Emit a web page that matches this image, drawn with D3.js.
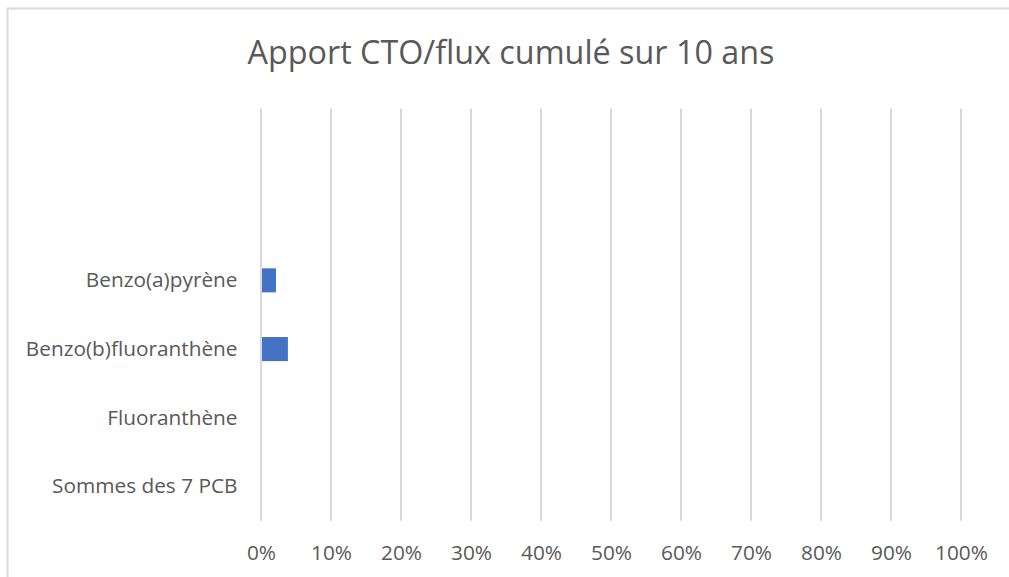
<!DOCTYPE html>
<html>
<head>
<meta charset="utf-8">
<script src="https://cdn.jsdelivr.net/npm/d3@7"></script>
<style>
  body { margin: 0; background: #fff; }
  text { font-family: "Open Sans", "Noto Sans", sans-serif; fill: #595959; }
</style>
</head>
<body>
<svg id="chart" width="1009" height="577"></svg>
<script>
const width = 1009;
const height = 577;

// Categories from bottom to top (Excel order); the two top ones have no label
const categories = ["Sommes des 7 PCB", "Fluoranthène", "Benzo(b)fluoranthène", "Benzo(a)pyrène", "", ""];
const values = [0, 0, 0.037, 0.02, null, null];
const xTicks = [0, 0.1, 0.2, 0.3, 0.4, 0.5, 0.6, 0.7, 0.8, 0.9, 1];
const title = "Apport CTO/flux cumulé sur 10 ans";

const data = categories.map((c, i) => ({ id: i, name: c, value: values[i] }));

const svg = d3.select("#chart");

// chart border
svg.append("rect")
    .attr("x", 7.5)
    .attr("y", 8.5)
    .attr("width", width + 10)
    .attr("height", height + 10)
    .attr("fill", "#fff")
    .attr("stroke", "#d9d9d9")
    .attr("stroke-width", 2);

const plot = { left: 261, right: 961, top: 108.6, bottom: 520.8 };

const x = d3.scaleLinear()
    .domain([0, 1])
    .range([plot.left, plot.right]);

const y = d3.scaleBand()
    .domain(data.map(d => d.id).reverse())
    .range([plot.top, plot.bottom])
    .paddingInner(0.65)
    .paddingOuter(0.325);

// fit a text element to a width measured off the reference
function fitWidth(sel, target) {
    const node = sel.node();
    const w = node.getComputedTextLength();
    if (w > 0) {
        const fs = parseFloat(sel.attr("font-size"));
        sel.attr("font-size", fs * target / w);
    }
}

// Title
const titleText = svg.append("text")
    .attr("x", 511)
    .attr("y", 64)
    .attr("text-anchor", "middle")
    .attr("font-size", 30)
    .text(title);
fitWidth(titleText, 527);

// Gridlines
svg.append("g")
    .selectAll("line")
    .data(xTicks)
    .join("line")
    .attr("x1", d => x(d))
    .attr("x2", d => x(d))
    .attr("y1", plot.top)
    .attr("y2", plot.bottom)
    .attr("stroke", "#d9d9d9")
    .attr("stroke-width", 2);

// X axis labels
const xAxis = d3.axisBottom(x)
    .tickValues(xTicks)
    .tickFormat(d3.format(".0%"))
    .tickSize(0)
    .tickPadding(0);

const xg = svg.append("g")
    .attr("transform", `translate(0, ${plot.bottom})`)
    .call(xAxis);
xg.select(".domain").remove();
xg.selectAll("text")
    .attr("font-size", 20.8)
    .attr("fill", "#595959")
    .attr("dy", null)
    .attr("y", 39.5)
    .style("font-family", "'Open Sans', sans-serif");

// Y axis labels
const yAxis = d3.axisLeft(y)
    .tickFormat(id => categories[id])
    .tickSize(0)
    .tickPadding(23.5);

const yg = svg.append("g")
    .attr("transform", `translate(${plot.left}, 0)`)
    .call(yAxis);
yg.select(".domain").remove();
yg.selectAll("text")
    .attr("font-size", 20.8)
    .attr("fill", "#595959")
    .attr("dy", "0.33em")
    .style("font-family", "'Open Sans', sans-serif");

// Bars
svg.append("g")
    .selectAll("rect")
    .data(data.filter(d => d.value !== null))
    .join("rect")
    .attr("x", x(0) + 1)
    .attr("y", d => y(d.id))
    .attr("width", d => Math.max(0, x(d.value) - x(0)))
    .attr("height", y.bandwidth())
    .attr("fill", "#4472c4");
</script>
</body>
</html>
